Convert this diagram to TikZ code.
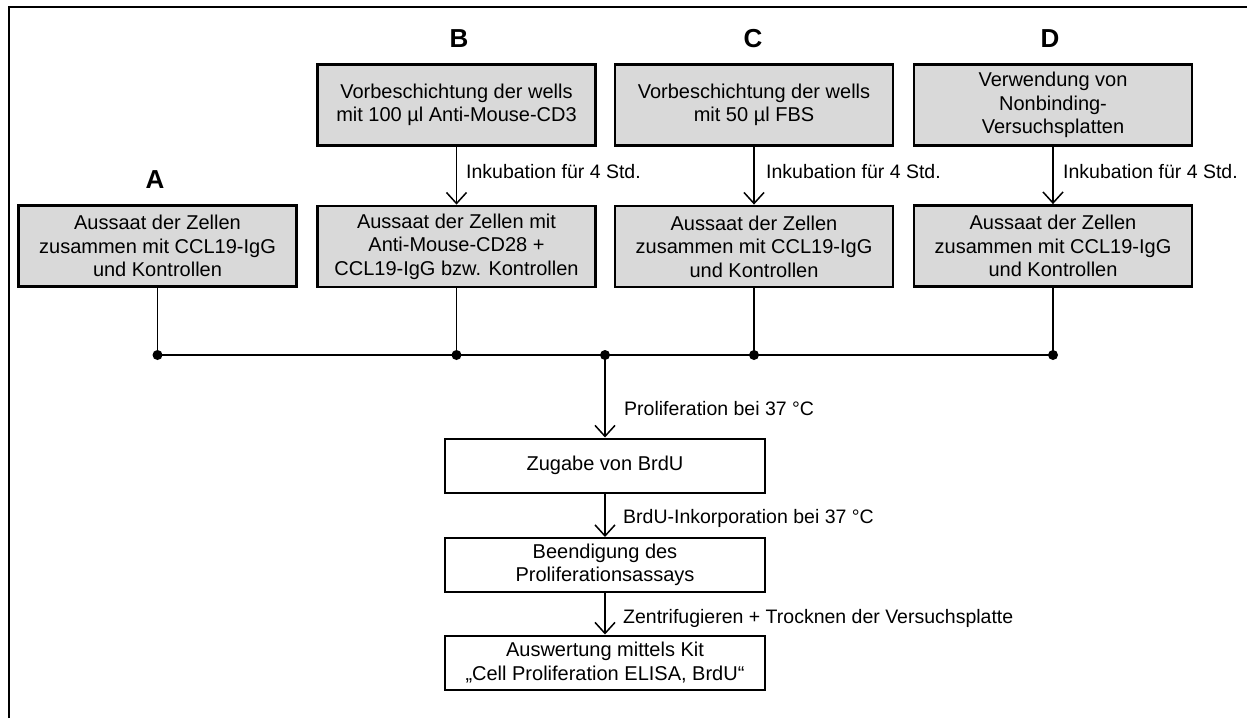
\documentclass[tikz,border=0pt]{standalone}
\usepackage{fontspec}
\setmainfont{Liberation Sans}
\usetikzlibrary{arrows.meta}
\definecolor{boxgray}{RGB}{217,217,217}
\begin{document}
\begin{tikzpicture}[x=1pt,y=-1pt,
  graybox/.style={draw, line width=2.8pt, fill=boxgray, minimum width=278pt, minimum height=81pt, inner sep=0pt, align=center, font=\fontsize{20}{23.5}\selectfont},
  whitebox/.style={draw, line width=2pt, fill=white, minimum width=320pt, minimum height=54pt, inner sep=0pt, align=center, font=\fontsize{20}{23.5}\selectfont},
  conn/.style={line width=1.7pt},
  arr/.style={conn, -{Straight Barb[length=11pt,width=20pt,line width=1.5pt]}},
  lbl/.style={anchor=base west, inner sep=0pt, font=\fontsize{19.5}{22}\selectfont},
  letter/.style={anchor=base, inner sep=0pt, font=\fontsize{26}{28}\selectfont\bfseries},
  dot/.style={circle, fill, inner sep=0pt, minimum size=10pt}
]
\useasboundingbox (0,0) rectangle (1247,718);
% frame (only top and left edges visible)
\draw[line width=2.5pt] (9,718) -- (9,7) -- (1247,7);

% letters
\node[letter] (LA) at (155,188) {A};
\node[letter] (LB) at (459,47) {B};
\node[letter] (LC) at (753,47) {C};
\node[letter] (LD) at (1050,47) {D};

% top boxes
\node[graybox] (B1) at (456.5,105) {Vorbeschichtung der wells\\mit 100 µl Anti-Mouse-CD3};
\node[graybox] (C1) at (754,105) {Vorbeschichtung der wells\\mit 50 µl FBS};
\node[graybox] (D1) at (1053,105) {Verwendung von\\Nonbinding-\\Versuchsplatten};

% lower boxes
\node[graybox] (A2) at (157.5,246) {Aussaat der Zellen\\zusammen mit CCL19-IgG\\und Kontrollen};
\node[graybox] (B2) at (456.5,246.5) {Aussaat der Zellen mit\\Anti-Mouse-CD28 +\\CCL19-IgG bzw. Kontrollen};
\node[graybox] (C2) at (754,246.5) {Aussaat der Zellen\\zusammen mit CCL19-IgG\\und Kontrollen};
\node[graybox] (D2) at (1053,246) {Aussaat der Zellen\\zusammen mit CCL19-IgG\\und Kontrollen};

% arrows top -> lower
\draw[arr] (B1.south) -- (B2.north);
\draw[arr] (C1.south) -- (C2.north);
\draw[arr] (D1.south) -- (D2.north);
\node[lbl] (tB) at (466,178) {Inkubation für 4 Std.};
\node[lbl] (tC) at (766,178) {Inkubation für 4 Std.};
\node[lbl] (tD) at (1063,178) {Inkubation für 4 Std.};

% bus
\node[dot] (dA) at (157.5,355) {};
\node[dot] (dB) at (456.5,355) {};
\node[dot] (dM) at (605,355) {};
\node[dot] (dC) at (754,355) {};
\node[dot] (dD) at (1053,355) {};
\draw[conn] (A2.south) -- (dA.center);
\draw[conn] (B2.south) -- (dB.center);
\draw[conn] (C2.south) -- (dC.center);
\draw[conn] (D2.south) -- (dD.center);
\draw[conn] (dA.center) -- (dD.center);

% lower chain
\node[whitebox] (Z) at (605,465.5) {Zugabe von BrdU};
\node[whitebox] (E) at (605,565) {Beendigung des\\Proliferationsassays};
\node[whitebox] (W) at (605,662.5) {Auswertung mittels Kit\\„Cell Proliferation ELISA, BrdU“};

\draw[arr] (dM.center) -- (Z.north);
\draw[arr] (Z.south) -- (E.north);
\draw[arr] (E.south) -- (W.north);

\node[lbl] (tP) at (624,415) {Proliferation bei 37 °C};
\node[lbl] (tI) at (623,523) {BrdU-Inkorporation bei 37 °C};
\node[lbl] (tZ) at (623,623) {Zentrifugieren + Trocknen der Versuchsplatte};
\end{tikzpicture}
\end{document}
